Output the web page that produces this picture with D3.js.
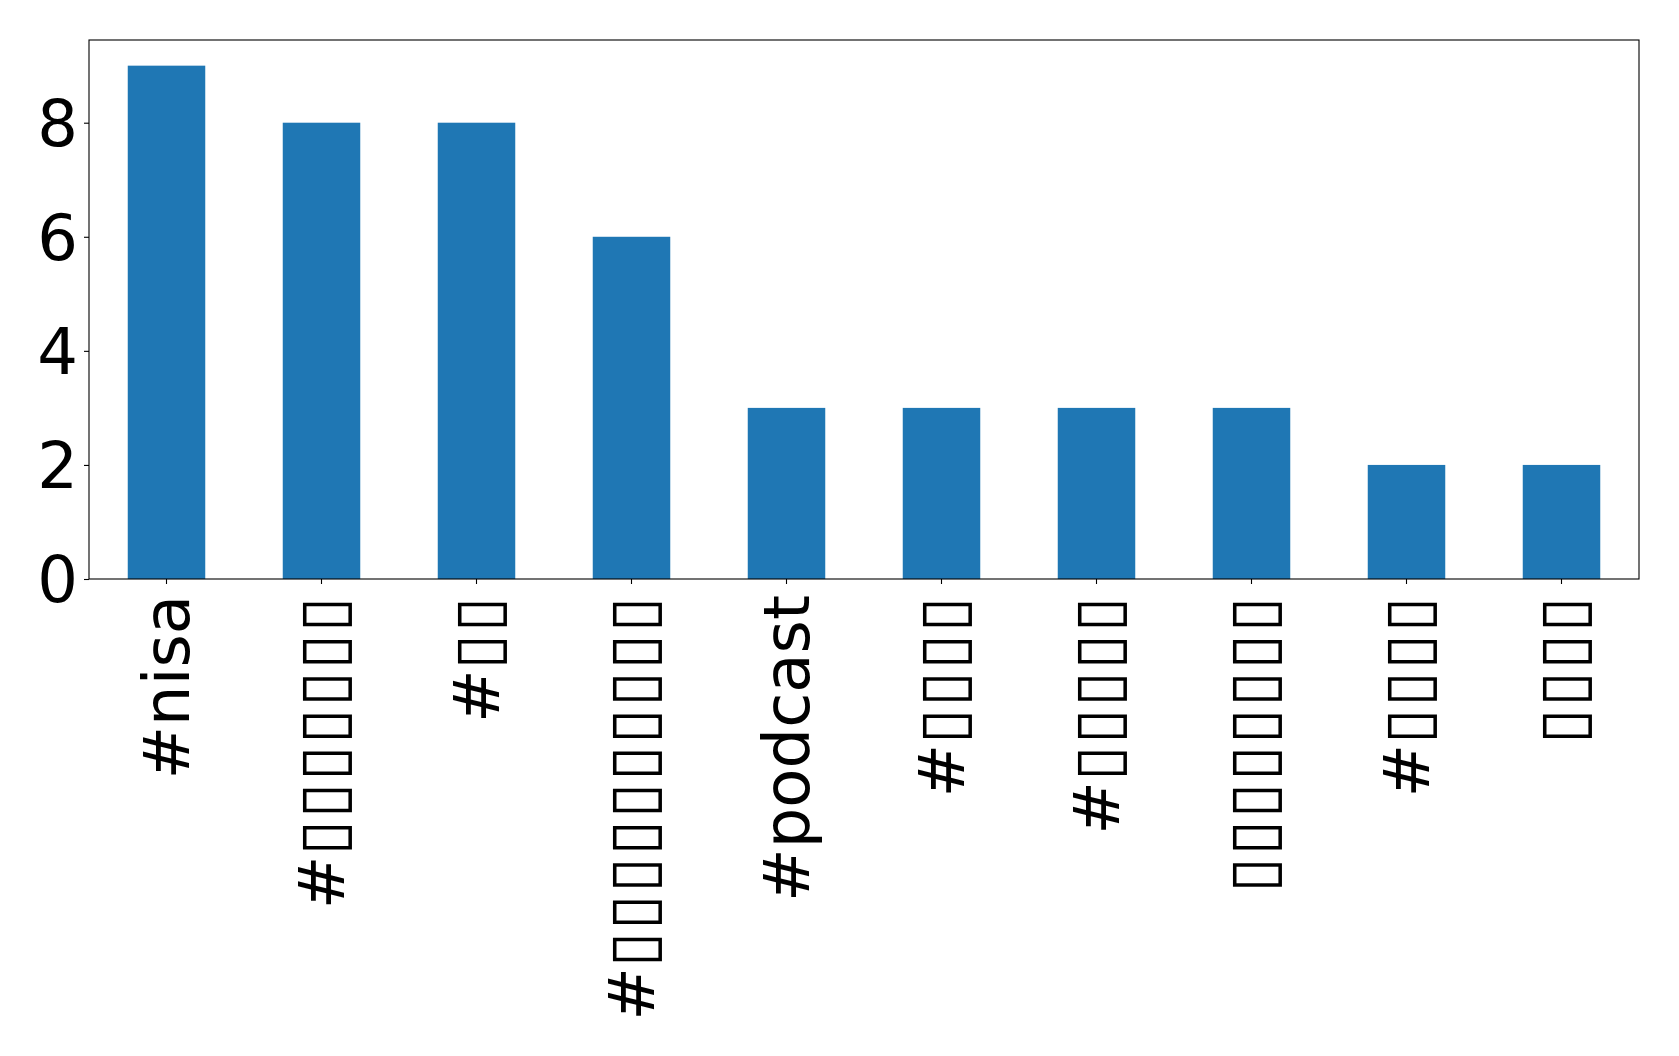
<!DOCTYPE html>
<html>
<head>
<meta charset="utf-8">
<script src="https://cdn.jsdelivr.net/npm/d3@7"></script>
<style>
  html, body { margin: 0; padding: 0; background: #fff; }
  svg { display: block; }
  text { font-family: "DejaVu Sans", sans-serif; fill: #000; }
</style>
</head>
<body>
<svg id="chart" width="1679" height="1056"></svg>
<script>
// Category labels (the non-Latin characters rendered as missing-glyph boxes in the reference)
const categories = [
  "#nisa",
  "#▯▯▯▯▯▯▯",
  "#▯▯",
  "#▯▯▯▯▯▯▯▯▯▯",
  "#podcast",
  "#▯▯▯▯",
  "#▯▯▯▯▯",
  "▯▯▯▯▯▯▯▯",
  "#▯▯▯▯",
  "▯▯▯▯"
];
const counts = [9, 8, 8, 6, 3, 3, 3, 3, 2, 2];
const yTicks = [0, 2, 4, 6, 8];

const margin = { left: 89, right: 1679 - 1639, top: 40, bottom: 1056 - 579 };
const W = 1679, H = 1056;
const innerW = W - margin.left - margin.right;
const innerH = H - margin.top - margin.bottom;

const svg = d3.select("#chart");
const g = svg.append("g").attr("transform", `translate(${margin.left},${margin.top})`);

const idx = d3.range(categories.length);
const x = d3.scaleBand()
  .domain(idx)
  .range([0, innerW])
  .paddingInner(0.5)
  .paddingOuter(0.25);

const yMax = d3.max(counts) * 1.05;
const y = d3.scaleLinear().domain([0, yMax]).range([innerH, 0]);

// bars
g.selectAll("rect.bar")
  .data(idx)
  .enter().append("rect")
  .attr("class", "bar")
  .attr("x", i => x(i))
  .attr("width", x.bandwidth())
  .attr("y", i => y(counts[i]))
  .attr("height", i => innerH - y(counts[i]))
  .attr("fill", "#1f77b4");

// y axis
const yAxis = d3.axisLeft(y).tickValues(yTicks).tickSize(5).tickPadding(6);
const yg = g.append("g").call(yAxis);
yg.select(".domain").remove();
yg.selectAll("text").style("font-size", "64px").attr("dy", "0.35em");
yg.selectAll("line").attr("stroke", "#000").attr("stroke-width", 1.1);

// x axis
const xAxis = d3.axisBottom(x).tickSize(5).tickSizeOuter(0).tickPadding(0)
  .tickFormat(i => categories[i]);
const xg = g.append("g").attr("transform", `translate(0,${innerH})`).call(xAxis);
xg.select(".domain").remove();
xg.selectAll("line").attr("stroke", "#000").attr("stroke-width", 1.1);
xg.selectAll("text")
  .style("font-size", "64px")
  .attr("text-anchor", "end")
  .attr("dominant-baseline", "central")
  .attr("dy", null)
  .attr("y", 0)
  .attr("transform", "translate(0,16) rotate(-90)")
  .each(function(i) {
    const t = d3.select(this);
    const label = categories[i];
    t.text(null);
    const runs = label.match(/▯+|[^▯]+/g);
    runs.forEach(r => {
      const ts = t.append("tspan").text(r);
      if (r[0] === "▯") ts.attr("letter-spacing", "2px");
    });
  });

// frame
g.append("rect")
  .attr("x", 0).attr("y", 0)
  .attr("width", innerW).attr("height", innerH)
  .attr("fill", "none")
  .attr("stroke", "#000")
  .attr("stroke-width", 1.1);
</script>
</body>
</html>
